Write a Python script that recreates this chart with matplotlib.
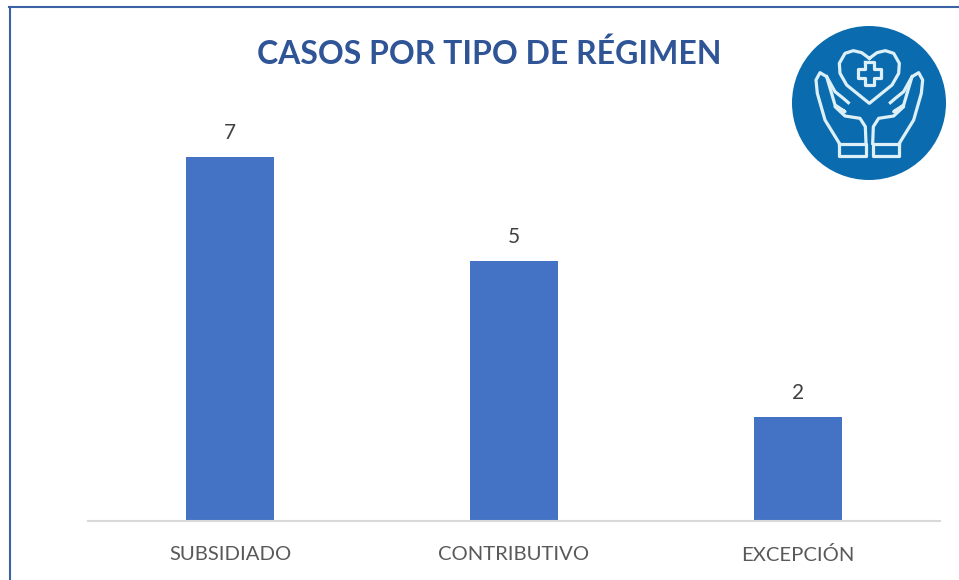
import matplotlib
matplotlib.use('Agg')
import matplotlib.pyplot as plt
from matplotlib.lines import Line2D
from matplotlib.patches import Circle

W, H = 959, 580

categories = ['SUBSIDIADO', 'CONTRIBUTIVO', 'EXCEPCIÓN']
cases = [7, 5, 2]
title = 'CASOS POR TIPO DE RÉGIMEN'


def px_axes(fig, left, top, right, bottom):
    return fig.add_axes([left / W, 1 - bottom / H, (right - left) / W, (bottom - top) / H])


def draw_frame(fig):
    color = '#3A62A5'
    fig.add_artist(Line2D([9.5 / W, 9.5 / W], [0, 1 - 6.5 / H], color=color, lw=1.5,
                          transform=fig.transFigure))
    fig.add_artist(Line2D([9 / W, 1], [1 - 6.5 / H, 1 - 6.5 / H], color=color, lw=1.5,
                          transform=fig.transFigure))


def draw_icon(fig):
    # logo, coordinates are 3x pixels of its box
    ax = px_axes(fig, 780, 10, 959, 190)
    ax.set_xlim(0, 537)
    ax.set_ylim(540, 0)
    ax.axis('off')
    ax.add_patch(Circle((267, 279), 231, color='#0A6CAE', lw=0))

    line = '#DDF0F7'
    lw = 2.3
    heart_x = [268, 245, 220, 195, 178, 180, 200, 268]
    heart_y = [145, 128, 122, 130, 160, 190, 225, 280]
    heart_x = heart_x + [536 - x for x in heart_x[::-1]]
    heart_y = heart_y + heart_y[::-1]
    ax.plot(heart_x, heart_y, color=line, lw=lw)

    cross_x = [255, 281, 281, 303, 303, 281, 281, 255, 255, 233, 233, 255, 255]
    cross_y = [156, 156, 178, 178, 204, 204, 226, 226, 204, 204, 178, 178, 156]
    ax.plot(cross_x, cross_y, color=line, lw=lw)

    hand_x = [258, 256, 240, 195, 165, 195, 165, 140, 120, 108, 112, 135, 178, 178]
    hand_y = [400, 350, 325, 318, 290, 305, 285, 200, 188, 210, 250, 330, 400, 400]
    finger_x = [140, 165, 190, 205]
    finger_y = [200, 245, 265, 278]
    cuff_x = [178, 258, 258, 178, 178]
    cuff_y = [402, 402, 438, 438, 402]
    for xs, ys in [(hand_x, hand_y), (finger_x, finger_y), (cuff_x, cuff_y)]:
        ax.plot(xs, ys, color=line, lw=lw)
        ax.plot([536 - x for x in xs], ys, color=line, lw=lw)


def main():
    plt.rcParams['font.family'] = ['Lato', 'DejaVu Sans']
    fig = plt.figure(figsize=(W / 100, H / 100), dpi=100)
    draw_frame(fig)

    ax = px_axes(fig, 88, 105, 940, 521)
    bars = ax.bar(categories, cases, width=0.313, color='#4472C4')
    ax.bar_label(bars, padding=10, fontsize=15, color='#404040')
    ax.set_xlim(-0.5, 2.5)
    ax.set_ylim(0, 8)
    ax.set_yticks([])
    for side in ['top', 'left', 'right']:
        ax.spines[side].set_visible(False)
    ax.spines['bottom'].set_color('#D9D9D9')
    ax.spines['bottom'].set_linewidth(1.5)
    ax.tick_params(axis='x', length=0, pad=18, labelsize=14.6, labelcolor='#595959')

    fig.text(489 / W, 1 - 54 / H, title, ha='center', va='center', fontsize=23,
             fontweight='bold', color='#2F5597')
    draw_icon(fig)

    fig.savefig('out.png', dpi=100)


if __name__ == '__main__':
    main()
